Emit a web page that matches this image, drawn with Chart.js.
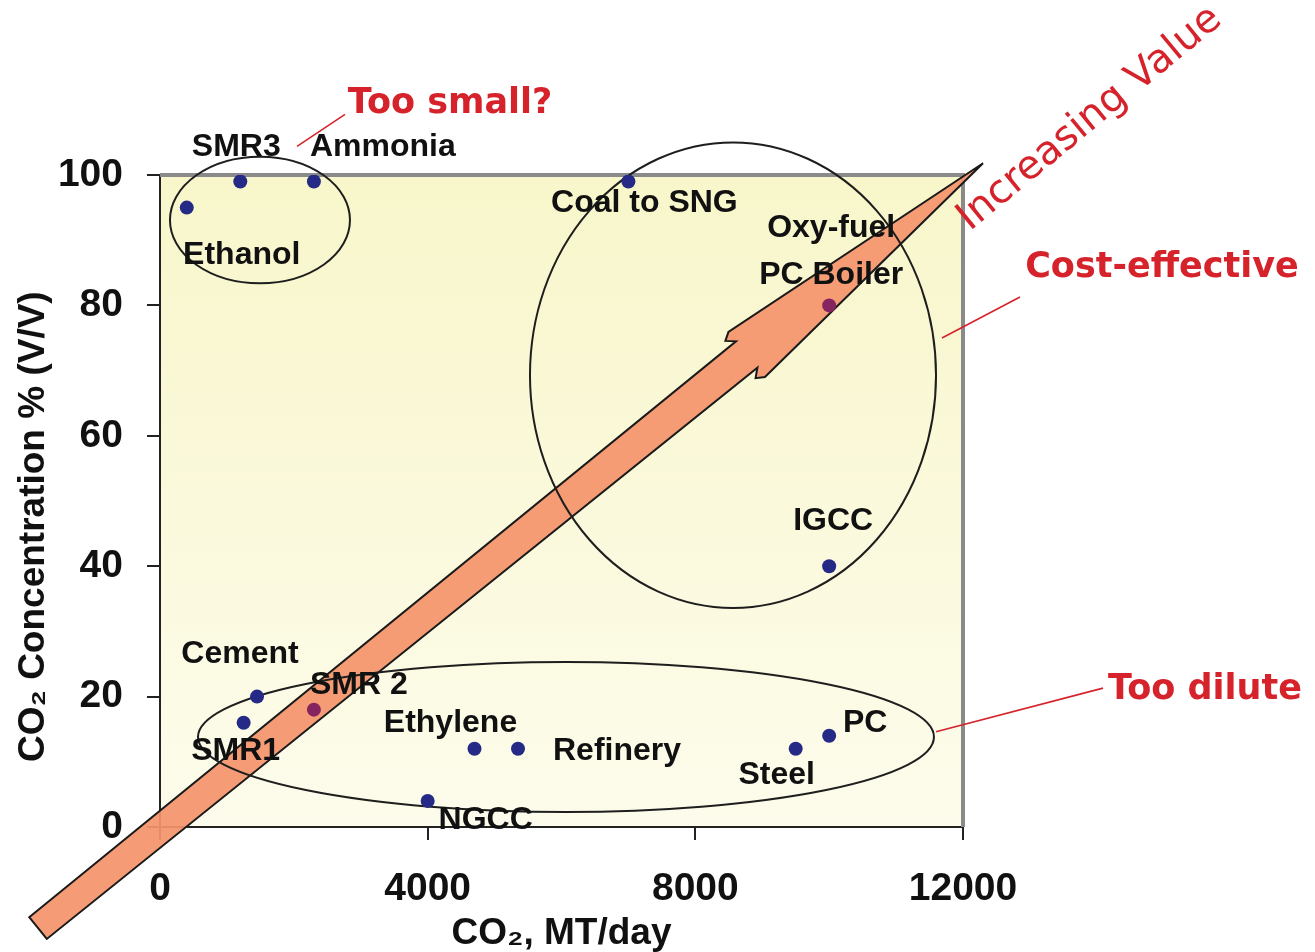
<!DOCTYPE html>
<html>
<head>
<meta charset="utf-8">
<title>CO2 sources</title>
<script src="https://cdn.jsdelivr.net/npm/chart.js@4.4.1/dist/chart.umd.min.js"></script>
<style>
  html, body { margin: 0; padding: 0; background: #fff; }
  #wrap { width: 1315px; height: 952px; }
</style>
</head>
<body>
<div id="wrap"><canvas id="chart" width="1315" height="952"></canvas></div>
<script>
'use strict';

// CO2 point sources: daily output against CO2 share of the stream
const sources = ['Ethanol', 'SMR3', 'Ammonia', 'Coal to SNG', 'Oxy-fuel PC Boiler', 'IGCC',
  'Cement', 'SMR1', 'SMR 2', 'Ethylene', 'Refinery', 'NGCC', 'Steel', 'PC'];
const co2PerDay = [400, 1200, 2300, 7000, 10000, 10000, 1450, 1250, 2300, 4700, 5350, 4000, 9500, 10000];
const co2Percent = [95, 99, 99, 99, 80, 40, 20, 16, 18, 12, 12, 4, 12, 14];

const xTicks = [0, 4000, 8000, 12000];
const yTicks = [0, 20, 40, 60, 80, 100];

// label placement, pixels from the dot (text centre)
const labelOffsets = {
  'Ethanol': [55, 48],
  'SMR3': [-4, -34],
  'Ammonia': [69, -34],
  'Coal to SNG': [16, 22],
  'Oxy-fuel PC Boiler': [2, -54],
  'IGCC': [4, -45],
  'Cement': [-17, -42],
  'SMR1': [-8, 28],
  'SMR 2': [45, -24],
  'Ethylene': [-24, -26],
  'Refinery': [99, 2],
  'NGCC': [58, 19],
  'Steel': [-19, 26],
  'PC': [36, -13]
};
const multiLine = { 'Oxy-fuel PC Boiler': ['Oxy-fuel', 'PC Boiler'] };

// dots that sit under the arrow are shown in a darker purple
const dotColors = sources.map(s => (s === 'Oxy-fuel PC Boiler' || s === 'SMR 2') ? '#85245f' : '#242a86');

// grouping ellipses, in axis units: [cx, cy, rx, ry]
const groups = [
  [1494, 93.1, 1345, 9.7],
  [8563, 69.3, 3034, 35.7],
  [6067, 13.8, 5499, 11.5]
];

// "increasing value" arrow, axis units (tail centre -> tip)
const arrowTail = [-1823, -15.5];
const arrowTip = [12299, 101.8];

// red callouts: text, text centre, leader line from -> to (axis units)
const callouts = [
  { text: 'Too small?', at: [4334, 110.9], from: [2047, 104.4], to: [2765, 109.3] },
  { text: 'Cost-effective', at: [14974, 85.7], from: [11686, 75.0], to: [12852, 81.3] },
  { text: 'Too dilute', at: [15616, 21.0], from: [11597, 14.6], to: [14092, 21.3] }
];
const arrowCaption = { text: 'Increasing Value', at: [13898, 108.6], angle: -39.5 };

const RED = '#d6232b';
const NBSP = '\u00a0';

const decorPlugin = {
  id: 'decor',
  beforeDraw(chart) {
    const { ctx, chartArea: a } = chart;
    const g = ctx.createLinearGradient(0, a.top, 0, a.bottom);
    g.addColorStop(0, '#f8f6ca');
    g.addColorStop(1, '#fdfcec');
    ctx.save();
    ctx.fillStyle = g;
    ctx.fillRect(a.left, a.top, a.right - a.left, a.bottom - a.top);
    ctx.restore();
  },
  beforeDatasetsDraw(chart) {
    const { ctx, chartArea: a, scales: { x, y } } = chart;
    ctx.save();

    // grey frame on top and right
    ctx.strokeStyle = '#8a8a8a';
    ctx.lineWidth = 4;
    ctx.beginPath();
    ctx.moveTo(a.left, a.top);
    ctx.lineTo(a.right, a.top);
    ctx.lineTo(a.right, a.bottom);
    ctx.stroke();

    // block arrow
    const tx = x.getPixelForValue(arrowTail[0]), ty = y.getPixelForValue(arrowTail[1]);
    const px = x.getPixelForValue(arrowTip[0]), py = y.getPixelForValue(arrowTip[1]);
    const len = Math.hypot(px - tx, py - ty);
    const ux = (px - tx) / len, uy = (py - ty) / len;
    const nx = -uy, ny = ux;
    const shaft = 14, head = 29, headLen = 304;
    const bx = px - ux * headLen, by = py - uy * headLen;
    const pt = (cx, cy, w) => [cx + nx * w, cy + ny * w];
    const poly = [
      pt(tx, ty, -shaft), pt(bx, by, -shaft - 3), pt(bx - ux * 8, by - uy * 8, -head + 5),
      pt(bx, by, -head), [px, py], pt(bx, by, head),
      pt(bx - ux * 8, by - uy * 8, head - 5), pt(bx, by, shaft + 3), pt(tx, ty, shaft)
    ];
    ctx.beginPath();
    poly.forEach(([qx, qy], i) => i ? ctx.lineTo(qx, qy) : ctx.moveTo(qx, qy));
    ctx.closePath();
    ctx.globalAlpha = 0.93;
    ctx.fillStyle = '#f4956d';
    ctx.fill();
    ctx.globalAlpha = 1;
    ctx.strokeStyle = '#1a1a1a';
    ctx.lineWidth = 2;
    ctx.lineJoin = 'miter';
    ctx.stroke();

    // grouping ellipses
    ctx.strokeStyle = '#1e1e1e';
    ctx.lineWidth = 2;
    groups.forEach(([cx, cy, rx, ry]) => {
      const ex = x.getPixelForValue(cx), ey = y.getPixelForValue(cy);
      const rpx = Math.abs(x.getPixelForValue(cx + rx) - ex);
      const rpy = Math.abs(y.getPixelForValue(cy + ry) - ey);
      ctx.beginPath();
      ctx.ellipse(ex, ey, rpx, rpy, 0, 0, Math.PI * 2);
      ctx.stroke();
    });
    ctx.restore();
  },
  afterDatasetsDraw(chart) {
    const { ctx } = chart;
    const meta = chart.getDatasetMeta(0);
    ctx.save();
    ctx.font = 'bold 32px "Liberation Sans", Arial, sans-serif';
    ctx.fillStyle = '#111';
    ctx.textAlign = 'center';
    ctx.textBaseline = 'middle';
    sources.forEach((name, i) => {
      const el = meta.data[i];
      const [dx, dy] = labelOffsets[name];
      const lines = multiLine[name] || [name];
      const gap = 47;
      lines.forEach((line, k) => {
        ctx.fillText(line, el.x + dx, el.y + dy + (k - (lines.length - 1) / 2) * gap);
      });
    });
    ctx.restore();
  },
  afterDraw(chart) {
    const { ctx, scales: { x, y } } = chart;
    ctx.save();
    ctx.fillStyle = RED;
    ctx.strokeStyle = RED;
    ctx.lineWidth = 1.6;
    ctx.textAlign = 'center';
    ctx.textBaseline = 'middle';
    ctx.font = 'bold 35px "DejaVu Sans", sans-serif';
    callouts.forEach(c => {
      ctx.beginPath();
      ctx.moveTo(x.getPixelForValue(c.from[0]), y.getPixelForValue(c.from[1]));
      ctx.lineTo(x.getPixelForValue(c.to[0]), y.getPixelForValue(c.to[1]));
      ctx.stroke();
      ctx.fillText(c.text, x.getPixelForValue(c.at[0]), y.getPixelForValue(c.at[1]));
    });
    ctx.translate(x.getPixelForValue(arrowCaption.at[0]), y.getPixelForValue(arrowCaption.at[1]));
    ctx.rotate(arrowCaption.angle * Math.PI / 180);
    ctx.font = '40px "DejaVu Sans", sans-serif';
    ctx.fillText(arrowCaption.text, 0, 0);
    ctx.restore();
  }
};

const tickFont = { family: '"Liberation Sans", Arial, sans-serif', size: 39, weight: 'bold' };
const titleFont = { family: '"Liberation Sans", "DejaVu Sans", sans-serif', size: 37, weight: 'bold', lineHeight: 1 };
const plainNumber = v => String(v);

new Chart(document.getElementById('chart'), {
  type: 'scatter',
  data: {
    datasets: [{
      data: co2PerDay.map((v, i) => ({ x: v, y: co2Percent[i] })),
      pointRadius: 7,
      pointHoverRadius: 7,
      pointBackgroundColor: dotColors,
      pointBorderWidth: 0
    }]
  },
  options: {
    responsive: false,
    animation: false,
    layout: { padding: { left: 0, top: 175, right: 352, bottom: 0 } },
    plugins: { legend: { display: false }, tooltip: { enabled: false } },
    scales: {
      x: {
        type: 'linear',
        min: 0,
        max: 12000,
        afterBuildTicks: s => { s.ticks = xTicks.map(v => ({ value: v })); },
        afterFit: s => { s.height = 125; },
        ticks: { font: tickFont, color: '#111', padding: 26, maxRotation: 0, callback: plainNumber },
        grid: { drawOnChartArea: false, drawTicks: true, tickLength: 13, color: '#222', lineWidth: 2 },
        border: { display: true, color: '#222', width: 2 },
        title: { display: true, text: 'CO\u2082, MT/day', font: titleFont, color: '#111', padding: { top: 0, bottom: 0 } }
      },
      y: {
        type: 'linear',
        min: 0,
        max: 100,
        afterBuildTicks: s => { s.ticks = yTicks.map(v => ({ value: v })); },
        afterFit: s => { s.width = 160; },
        ticks: { font: tickFont, color: '#111', padding: 24, callback: plainNumber },
        grid: { drawOnChartArea: false, drawTicks: true, tickLength: 13, color: '#222', lineWidth: 2 },
        border: { display: true, color: '#222', width: 2 },
        title: {
          display: true,
          text: 'CO\u2082 Concentration % (V/V)' + NBSP.repeat(5),
          font: titleFont,
          color: '#111',
          padding: { top: 15, bottom: 0 }
        }
      }
    }
  },
  plugins: [decorPlugin]
});
</script>
</body>
</html>
